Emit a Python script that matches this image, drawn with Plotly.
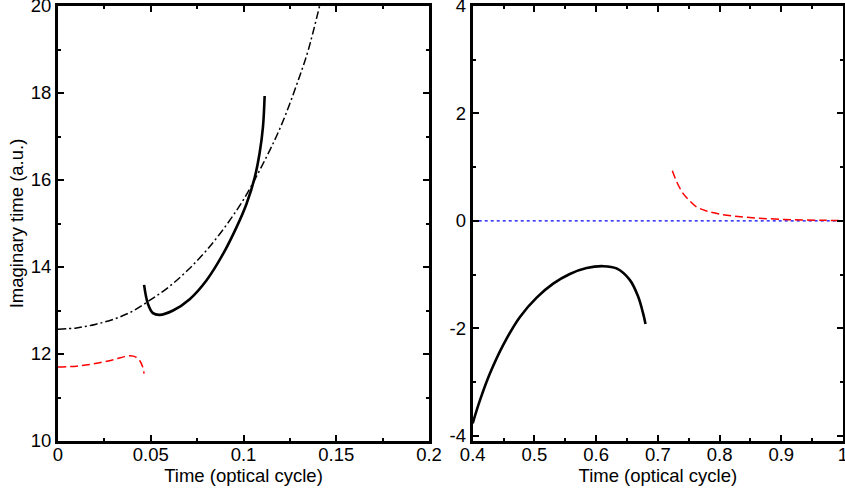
import plotly.graph_objects as go

# ---- Left panel data ----
left_dashdot_x = [0, 0.01, 0.02, 0.03, 0.04, 0.05, 0.06, 0.07, 0.08, 0.09, 0.10, 0.11, 0.12, 0.13, 0.135, 0.141]
left_dashdot_y = [12.57, 12.60, 12.68, 12.80, 12.98, 13.25, 13.55, 13.93, 14.38, 14.92, 15.55, 16.33, 17.22, 18.35, 19.0, 20.0]

left_solid_x = [0.0464, 0.0485, 0.0512, 0.0548, 0.0620, 0.0710, 0.0800, 0.0890, 0.0962, 0.1016, 0.1060, 0.1087, 0.1105, 0.1114]
left_solid_y = [13.59, 13.15, 12.94, 12.90, 13.00, 13.26, 13.69, 14.30, 14.91, 15.45, 16.05, 16.62, 17.22, 17.93]

left_red_x = [0, 0.01, 0.02, 0.03, 0.036, 0.039, 0.042, 0.044, 0.0455, 0.0464]
left_red_y = [11.70, 11.72, 11.78, 11.87, 11.94, 11.96, 11.93, 11.85, 11.72, 11.55]

# ---- Right panel data ----
right_solid_x = [0.400, 0.4118, 0.428, 0.4495, 0.4765, 0.5036, 0.5304, 0.5574, 0.5845, 0.6113, 0.633, 0.6545, 0.668, 0.676, 0.680]
right_solid_y = [-3.77, -3.34, -2.84, -2.31, -1.79, -1.43, -1.17, -0.99, -0.88, -0.845, -0.886, -1.10, -1.41, -1.72, -1.92]

right_red_x = [0.7235, 0.73, 0.7408, 0.75, 0.7625, 0.78, 0.80, 0.83, 0.87, 0.92, 0.97, 1.0]
right_red_y = [0.93, 0.74, 0.51, 0.39, 0.26, 0.18, 0.125, 0.08, 0.045, 0.02, 0.01, 0.005]

right_blue_x = [0.4, 1.0]
right_blue_y = [0, 0]

# ---- Tick labels ----
left_xticks = [0, 0.05, 0.1, 0.15, 0.2]
left_xticktext = ["0", "0.05", "0.1", "0.15", "0.2"]
left_yticks = [10, 12, 14, 16, 18, 20]
left_yticktext = ["10", "12", "14", "16", "18", "20"]
right_xticks = [0.4, 0.5, 0.6, 0.7, 0.8, 0.9, 1.0]
right_xticktext = ["0.4", "0.5", "0.6", "0.7", "0.8", "0.9", "1"]
right_yticks = [-4, -2, 0, 2, 4]
right_yticktext = ["-4", "-2", "0", "2", "4"]

FONT = "Liberation Sans, Arial, sans-serif"
FS = 18.5
fig = go.Figure()

fig.add_trace(go.Scatter(x=left_dashdot_x, y=left_dashdot_y, mode="lines",
                         line=dict(color="black", width=1.5, dash="8px,3px,2px,3px", shape="spline"),
                         xaxis="x", yaxis="y", showlegend=False))
fig.add_trace(go.Scatter(x=left_solid_x, y=left_solid_y, mode="lines",
                         line=dict(color="black", width=2.6, shape="spline"),
                         xaxis="x", yaxis="y", showlegend=False))
fig.add_trace(go.Scatter(x=left_red_x, y=left_red_y, mode="lines",
                         line=dict(color="red", width=1.5, dash="8px,4px", shape="spline"),
                         xaxis="x", yaxis="y", showlegend=False))

fig.add_trace(go.Scatter(x=right_blue_x, y=right_blue_y, mode="lines",
                         line=dict(color="blue", width=1.2, dash="3px,3px"),
                         xaxis="x2", yaxis="y2", showlegend=False))
fig.add_trace(go.Scatter(x=right_solid_x, y=right_solid_y, mode="lines",
                         line=dict(color="black", width=2.6, shape="spline"),
                         xaxis="x2", yaxis="y2", showlegend=False))
fig.add_trace(go.Scatter(x=right_red_x, y=right_red_y, mode="lines",
                         line=dict(color="red", width=1.5, dash="8px,4px", shape="spline"),
                         xaxis="x2", yaxis="y2", showlegend=False))

axis_common = dict(showline=True, linecolor="black", linewidth=3, mirror="allticks",
                   ticks="inside", ticklen=6, tickwidth=2, tickcolor="black",
                   showgrid=False, zeroline=False, automargin=False,
                   ticklabeloverflow="allow",
                   tickfont=dict(family=FONT, size=FS, color="black"))

fig.update_layout(
    width=845, height=488,
    margin=dict(l=58, r=2, t=6, b=47),
    paper_bgcolor="white", plot_bgcolor="white",
    font=dict(family=FONT, size=FS, color="black"),
    xaxis=dict(domain=[0, 0.4726], range=[0, 0.2], tickvals=left_xticks, ticktext=left_xticktext,
               ticklabelstandoff=-5,
               minor=dict(ticks="inside", ticklen=3, tickwidth=2, tickcolor="black", dtick=0.025, tick0=0),
               title=dict(text="Time (optical cycle)", standoff=0, font=dict(family=FONT, size=FS)),
               anchor="y", **axis_common),
    yaxis=dict(domain=[0, 1], range=[10, 20], tickvals=left_yticks, ticktext=left_yticktext,
               minor=dict(ticks="inside", ticklen=3, tickwidth=2, tickcolor="black", dtick=1, tick0=10),
               title=dict(text="Imaginary time (a.u.)", standoff=3, font=dict(family=FONT, size=FS)),
               anchor="x", **axis_common),
    xaxis2=dict(domain=[0.5283, 1.0], range=[0.4, 1.0], tickvals=right_xticks, ticktext=right_xticktext,
                ticklabelstandoff=-5,
                minor=dict(ticks="inside", ticklen=3, tickwidth=2, tickcolor="black", dtick=0.05, tick0=0.4),
                title=dict(text="Time (optical cycle)", standoff=0, font=dict(family=FONT, size=FS)),
                anchor="y2", **axis_common),
    yaxis2=dict(domain=[0, 1], range=[-4.1, 4], tickvals=right_yticks, ticktext=right_yticktext,
                minor=dict(ticks="inside", ticklen=3, tickwidth=2, tickcolor="black", dtick=1, tick0=0),
                anchor="x2", **axis_common),
)

fig.write_html("out.html")
